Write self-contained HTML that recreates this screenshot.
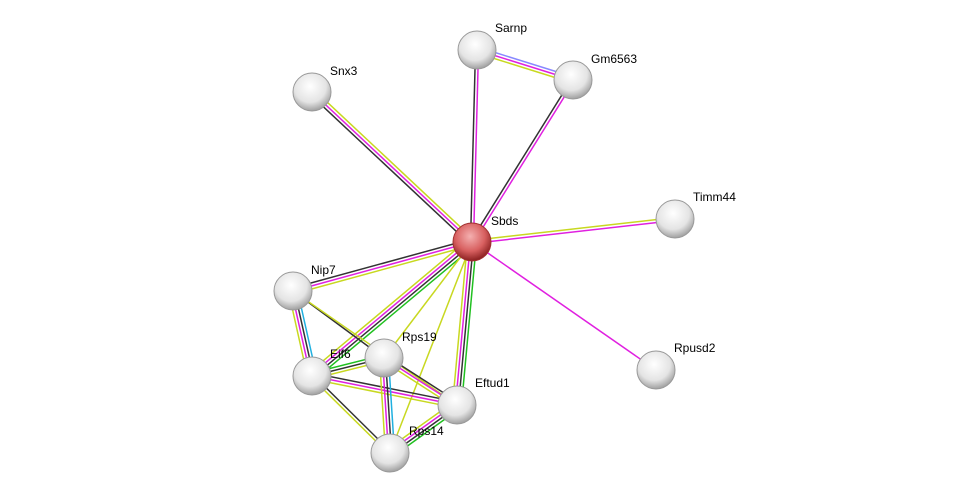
<!DOCTYPE html>
<html><head><meta charset="utf-8"><style>
html,body{margin:0;padding:0;background:#fff;width:975px;height:498px;overflow:hidden}
text{font-family:"Liberation Sans",sans-serif;font-size:12px;fill:#000}
</style></head><body>
<svg id="s" width="975" height="498" xmlns="http://www.w3.org/2000/svg">
<defs>
<radialGradient id="g" cx="45%" cy="35%" r="65%">
<stop offset="0" stop-color="#ffffff"/><stop offset="0.65" stop-color="#e4e4e4"/><stop offset="1" stop-color="#a0a0a0"/>
</radialGradient>
<radialGradient id="r" cx="45%" cy="35%" r="65%">
<stop offset="0" stop-color="#f4b0b0"/><stop offset="0.6" stop-color="#d86060"/><stop offset="1" stop-color="#8a2020"/>
</radialGradient>
</defs>
<g id="edges"></g>
<g id="nodes"></g>
<text x="495" y="32">Sarnp</text>
<text x="591" y="63">Gm6563</text>
<text x="330" y="75">Snx3</text>
<text x="693" y="201">Timm44</text>
<text x="491" y="225">Sbds</text>
<text x="311" y="274">Nip7</text>
<text x="402" y="341">Rps19</text>
<text x="330" y="358">Eif6</text>
<text x="475" y="387">Eftud1</text>
<text x="409" y="435">Rps14</text>
<text x="674" y="352">Rpusd2</text>
</svg>
<script>
var N={Sbds:[472,242],Sarnp:[477,50],Gm:[573,80],Snx3:[312,92],Timm:[675,219],Nip7:[293,291],Rps19:[384,358],Eif6:[312,376],Eft:[457,405],Rps14:[390,453],Rpu:[656,370]};
var C={k:"#333",m:"#e020e0",y:"#c8d820",g:"#20c020",c:"#20b0e0",b:"#8888ff"};
var E=[["Sbds","Sarnp","km"],["Sbds","Gm","km"],["Sarnp","Gm","bmy"],["Sbds","Snx3","kmy"],["Sbds","Timm","ym"],["Sbds","Rpu","m"],["Sbds","Nip7","ymk"],["Sbds","Eif6","gkmy"],["Sbds","Rps19","y"],["Sbds","Eft","gkmy"],["Sbds","Rps14","y"],["Nip7","Eif6","ckmy"],["Nip7","Rps19","k"],["Nip7","Eft","y"],["Eif6","Rps19","gky"],["Eif6","Eft","kmy"],["Eif6","Rps14","ky"],["Rps19","Eft","kmy"],["Rps19","Rps14","ckmy"],["Eft","Rps14","gkmy"]];
var ns="http://www.w3.org/2000/svg",eg=document.getElementById("edges"),ng=document.getElementById("nodes");
E.forEach(function(e){var a=N[e[0]],b=N[e[1]],dx=b[0]-a[0],dy=b[1]-a[1],L=Math.hypot(dx,dy),px=-dy/L,py=dx/L,n=e[2].length;
for(var i=0;i<n;i++){var o=(i-(n-1)/2)*3,l=document.createElementNS(ns,"line");
l.setAttribute("x1",a[0]+px*o);l.setAttribute("y1",a[1]+py*o);l.setAttribute("x2",b[0]+px*o);l.setAttribute("y2",b[1]+py*o);
l.setAttribute("stroke",C[e[2][i]]);l.setAttribute("stroke-width","1.5");eg.appendChild(l);}});
for(var k in N){var c=document.createElementNS(ns,"circle");c.setAttribute("cx",N[k][0]);c.setAttribute("cy",N[k][1]);c.setAttribute("r",19);
c.setAttribute("fill",k=="Sbds"?"url(#r)":"url(#g)");c.setAttribute("stroke",k=="Sbds"?"#a03030":"#999");c.setAttribute("stroke-width","1");ng.appendChild(c);}
</script>
</body></html>
